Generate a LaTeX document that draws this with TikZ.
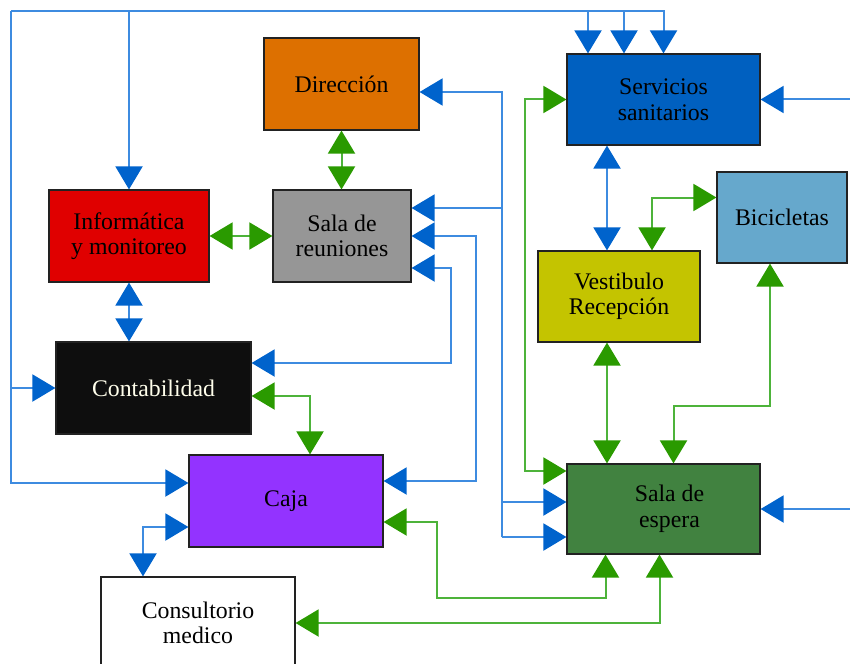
\documentclass[tikz,border=0pt]{standalone}
\usepackage{fontspec}
\setmainfont{Liberation Serif}
\usetikzlibrary{arrows.meta}

\definecolor{boxline}{HTML}{222222}
\definecolor{lineblue}{HTML}{3D8BE0}
\definecolor{tipblue}{HTML}{0063CC}
\definecolor{linegreen}{HTML}{4DB33A}
\definecolor{tipgreen}{HTML}{2A9A00}
\definecolor{cdir}{HTML}{DD7000}
\definecolor{creu}{HTML}{969696}
\definecolor{cinf}{HTML}{E00000}
\definecolor{cserv}{HTML}{0060C0}
\definecolor{cbici}{HTML}{66A8CC}
\definecolor{cvest}{HTML}{C4C400}
\definecolor{ccont}{HTML}{0E0E0E}
\definecolor{ccaja}{HTML}{9333FF}
\definecolor{cesp}{HTML}{418240}

\begin{document}
\begin{tikzpicture}[x=1pt,y=-1pt,
  area/.style={draw=boxline,line width=1.2pt,inner sep=0pt,align=center,
    font=\fontsize{23.8}{25.5}\selectfont},
  bto/.style={draw=lineblue,line width=2pt,-{Triangle[length=23pt,width=27pt,color=tipblue]}},
  bboth/.style={draw=lineblue,line width=2pt,
    {Triangle[length=23pt,width=27pt,color=tipblue]}-{Triangle[length=23pt,width=27pt,color=tipblue]}},
  gboth/.style={draw=linegreen,line width=2pt,
    {Triangle[length=23pt,width=27pt,color=tipgreen]}-{Triangle[length=23pt,width=27pt,color=tipgreen]}}]
\clip (0,0) rectangle (850,663);

% areas
\node[area,fill=cdir,minimum width=155pt,minimum height=92pt] (dir) at (341.5,84) {Dirección};
\node[area,fill=creu,minimum width=138pt,minimum height=92pt] (reu) at (342,236) {Sala de\\reuniones};
\node[area,fill=cinf,minimum width=160pt,minimum height=92pt] (inf) at (129,236) {Informática\\y monitoreo};
\node[area,fill=cserv,minimum width=193pt,minimum height=91pt] (serv) at (663.5,99.5) {Servicios\\sanitarios};
\node[area,fill=cbici,minimum width=130pt,minimum height=91pt] (bici) at (782,217.5) {Bicicletas};
\node[area,fill=cvest,minimum width=162pt,minimum height=91pt] (vest) at (619,296.5) {Vestibulo\\Recepción};
\node[area,fill=ccont,text=white!92!yellow,minimum width=195pt,minimum height=92pt] (cont) at (153.5,388) {Contabilidad};
\node[area,fill=ccaja,minimum width=194pt,minimum height=92pt] (caja) at (286,501) {Caja};
\node[area,fill=white,minimum width=194pt,minimum height=92pt] (cons) at (198,623) {Consultorio\\medico};
\node[area,fill=cesp,minimum width=193pt,minimum height=90pt] (esp) at (663.5,509) {\hspace{12pt}Sala de\\\hspace{12pt}espera};

\coordinate (src) at (11,11);
\coordinate (trunk) at (502,537);
\coordinate (east1) at (850,99.5);
\coordinate (east2) at (850,509);

% blue links
\draw[bto] (src) -| (inf.north);
\draw[bto] (src) |- (cont.west);
\draw[bto] (src) |- ([yshift=18pt]caja.west);
\draw[bto] (src) -| ([xshift=-75.5pt]serv.north);
\draw[bto] (src) -| ([xshift=-39.5pt]serv.north);
\draw[bto] (src) -| (serv.north);
\draw[bto] (trunk) -- ([yshift=-28pt]esp.west);
\draw[bto] (trunk) |- ([yshift=7pt]esp.west);
\draw[bto] (trunk) |- ([yshift=28pt]reu.east);
\draw[bto] (trunk) |- ([yshift=-8pt]dir.east);
\draw[bboth] (reu.east) -- ++(64,0) |- ([yshift=20pt]caja.east);
\draw[bboth] ([yshift=-32pt]reu.east) -- ++(39,0) |- ([yshift=25pt]cont.east);
\draw[bboth] (inf.south) -- (inf.south |- cont.north);
\draw[bboth] ([xshift=-12pt]vest.north) -- ([xshift=-12pt]vest.north |- serv.south);
\draw[bboth] ([yshift=-26pt]caja.west) -| ([xshift=-55pt]cons.north);
\draw[bto] (east1) -- (serv.east);
\draw[bto] (east2) -- (esp.east);

% green links
\draw[gboth] (dir.south) -- (dir.south |- reu.north);
\draw[gboth] (inf.east) -- (reu.west);
\draw[gboth] ([yshift=-8pt]cont.east) -| ([xshift=24pt]caja.north);
\draw[gboth] (serv.west) -- ++(-41,0) |- ([yshift=38pt]esp.west);
\draw[gboth] ([yshift=20pt]bici.west) -| ([xshift=33pt]vest.north);
\draw[gboth] ([xshift=-12pt]vest.south) -- ([xshift=-12pt]vest.south |- esp.north);
\draw[gboth] ([xshift=-12pt]bici.south) -- ++(0,142) -| ([xshift=10pt]esp.north);
\draw[gboth] ([yshift=-21pt]caja.east) -| (437,598) -| ([xshift=-58pt]esp.south);
\draw[gboth] (cons.east) -| ([xshift=-4pt]esp.south);
\end{tikzpicture}
\end{document}
